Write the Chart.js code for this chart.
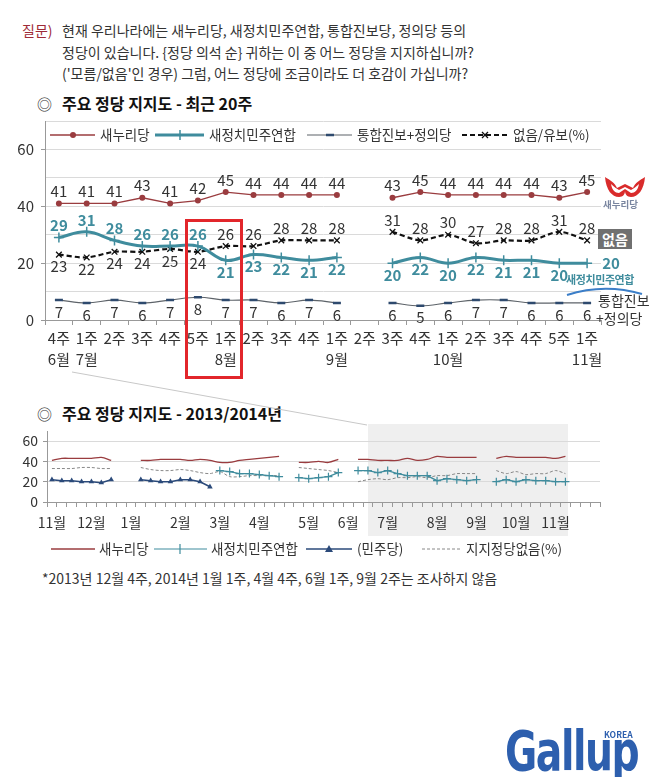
<!DOCTYPE html>
<html>
<head>
<meta charset="utf-8">
<script src="https://cdn.jsdelivr.net/npm/chart.js@4.4.1/dist/chart.umd.min.js"></script>
<style>
  body { margin: 0; background: #fff; font-family: "Noto Sans CJK KR", "Noto Sans", sans-serif; color: #333; }
  #page { position: relative; width: 659px; height: 777px; overflow: hidden; }
  .t { position: absolute; white-space: nowrap; line-height: 1; transform: translateY(-50%); }
  .box { position: absolute; }
  #shade { position: absolute; left: 368px; top: 424px; width: 200px; height: 112px; background: #efefef; z-index: 0; }
  #top-wrap { position: absolute; left: 0; top: 110px; z-index: 1; }
  #bottom-wrap { position: absolute; left: 0; top: 425px; z-index: 1; }
  #overlay { position: absolute; left: 0; top: 0; z-index: 2; }
  .q { font-size: 14px; color: #333; }
  .title { font-size: 16px; font-weight: bold; color: #111; }
  .leg { font-size: 13.5px; color: #333; z-index: 3; }
</style>
</head>
<body>
<div id="page">
  <div id="shade"></div>

  <div class="t q" style="left:22px;top:30px;color:#9e2a36;">질문)</div>
  <div class="t q" style="left:62px;top:30px;">현재 우리나라에는 새누리당, 새정치민주연합, 통합진보당, 정의당 등의</div>
  <div class="t q" style="left:62px;top:52px;">정당이 있습니다. {정당 의석 순} 귀하는 이 중 어느 정당을 지지하십니까?</div>
  <div class="t q" style="left:62px;top:73px;">('모름/없음'인 경우) 그럼, 어느 정당에 조금이라도 더 호감이 가십니까?</div>

  <div class="t" style="left:37px;top:103px;font-size:15px;">◎</div>
  <div class="t title" style="left:62px;top:103px;">주요 정당 지지도 - 최근 20주</div>

  <div id="top-wrap"><canvas id="top-chart" width="659" height="275"></canvas></div>

  <div class="t leg" style="left:100px;top:135px;">새누리당</div>
  <div class="t leg" style="left:209px;top:135px;">새정치민주연합</div>
  <div class="t leg" style="left:357px;top:135px;">통합진보+정의당</div>
  <div class="t leg" style="left:513px;top:135px;">없음/유보(%)</div>

  <div class="t" style="left:603px;top:205px;font-size:9.5px;font-weight:bold;color:#7a86a0;z-index:3;">새누리당</div>
  <div class="box" style="left:598px;top:229px;width:34px;height:20px;background:#707070;color:#fff;font-size:14px;font-weight:bold;line-height:20px;text-align:center;z-index:3;">없음</div>
  <div class="t" style="left:566px;top:279px;font-size:11px;font-weight:bold;color:#3f8c9d;letter-spacing:-0.4px;z-index:3;">새정치민주연합</div>
  <div class="t" style="left:598px;top:300px;font-size:14px;z-index:3;">통합진보</div>
  <div class="t" style="left:596px;top:318px;font-size:14px;z-index:3;">+정의당</div>

  <div class="box" style="left:185px;top:219px;width:58px;height:160px;border:3px solid #e2262b;box-sizing:border-box;z-index:3;"></div>

  <div class="t" style="left:37px;top:413px;font-size:15px;">◎</div>
  <div class="t title" style="left:62px;top:413px;">주요 정당 지지도 - 2013/2014년</div>

  <div id="bottom-wrap"><canvas id="bottom-chart" width="659" height="112"></canvas></div>

  <div class="t leg" style="left:99px;top:549px;">새누리당</div>
  <div class="t leg" style="left:211px;top:549px;">새정치민주연합</div>
  <div class="t leg" style="left:357px;top:549px;">(민주당)</div>
  <div class="t leg" style="left:466px;top:549px;">지지정당없음(%)</div>

  <div class="t" style="left:42px;top:578px;font-size:14px;">*2013년 12월 4주, 2014년 1월 1주, 4월 4주, 6월 1주, 9월 2주는 조사하지 않음</div>

  <div class="box" style="left:505px;top:723px;font-family:'DejaVu Sans Condensed','DejaVu Sans',sans-serif;font-weight:bold;font-size:46px;line-height:1;color:#2d5fae;letter-spacing:-1.5px;transform:scale(0.95,1.2);transform-origin:left top;z-index:3;">Gallup</div>
  <div class="t" style="left:603px;top:734px;font-size:8.5px;font-weight:bold;color:#2d5fae;z-index:3;background:#fff;padding:0 1px;">KOREA</div>

  <svg id="overlay" width="659" height="777">
    <line x1="72" y1="372" x2="367" y2="425" stroke="#c8c8c8" stroke-width="1"/>
    <!-- top legend swatches -->
    <line x1="50" y1="135" x2="95" y2="135" stroke="#9a3c3f" stroke-width="1.3"/>
    <circle cx="73" cy="135" r="3" fill="#9a3c3f"/>
    <line x1="155" y1="135" x2="204" y2="135" stroke="#3f8c9d" stroke-width="3"/>
    <line x1="180" y1="130" x2="180" y2="140" stroke="#3f8c9d" stroke-width="1.5"/>
    <line x1="307" y1="135" x2="352" y2="135" stroke="#5d6369" stroke-width="1.2"/>
    <line x1="326" y1="135" x2="334" y2="135" stroke="#2e4a6e" stroke-width="2.5"/>
    <line x1="462" y1="135" x2="508" y2="135" stroke="#111" stroke-width="2.2" stroke-dasharray="5,3"/>
    <path d="M482 132 L488 138 M488 132 L482 138" stroke="#111" stroke-width="1.3"/>
    <!-- bottom legend swatches -->
    <line x1="51" y1="549" x2="95" y2="549" stroke="#9a3c3f" stroke-width="1.3"/>
    <line x1="154" y1="549" x2="207" y2="549" stroke="#3f8c9d" stroke-width="1.2"/>
    <line x1="180" y1="544" x2="180" y2="554" stroke="#3f8c9d" stroke-width="1.2"/>
    <line x1="306" y1="549" x2="352" y2="549" stroke="#2b4a7a" stroke-width="1.5"/>
    <path d="M329 545 L333 552 L325 552 Z" fill="#2b4a7a"/>
    <line x1="422" y1="549" x2="460" y2="549" stroke="#888" stroke-width="1" stroke-dasharray="3,2"/>
    <!-- right side marks -->
    <path d="M567 295 Q604 283 642 294" stroke="#3b7ec8" stroke-width="2" fill="none"/>
    <path d="M605 177 C606 190 612 197 619 197 C623 197 625 194 625 191 C625 194 627 197 631 197 C638 197 644 190 645 177 C640 180 635 183 633 188 L625 184 L617 188 C615 183 610 180 605 177 Z" fill="#d92b2b"/>
    <path d="M611 184 C612 190 615 193 619 193 L625 189 L631 193 C635 193 638 190 639 184 C636 187 633 189 631 190 L625 187 L619 190 C617 189 614 187 611 184 Z" fill="#fff"/>
    <!-- globe in G -->
    <path d="M527 736 L527 764 M514 750 L540 750" stroke="#fff" stroke-width="1.2"/>
  </svg>
</div>

<script>
// ---- top chart data (최근 20주) ----
const weeks = ['4주', '1주', '2주', '3주', '4주', '5주', '1주', '2주', '3주', '4주', '1주', '2주', '3주', '4주', '1주', '2주', '3주', '4주', '5주', '1주'];
const weekMonths = ['6월', '7월', '', '', '', '', '8월', '', '', '', '9월', '', '', '', '10월', '', '', '', '', '11월'];
const saenuri = [41, 41, 41, 43, 41, 42, 45, 44, 44, 44, 44, null, 43, 45, 44, 44, 44, 44, 43, 45];
const npad = [29, 31, 28, 26, 26, 26, 21, 23, 22, 21, 22, null, 20, 22, 20, 22, 21, 21, 20, 20];
const unified = [7, 6, 7, 6, 7, 8, 7, 7, 6, 7, 6, null, 6, 5, 6, 7, 7, 6, 6, 6];
const noneTop = [23, 22, 24, 24, 25, 24, 26, 26, 28, 28, 28, null, 31, 28, 30, 27, 28, 28, 31, 28];

// ---- bottom chart data (2013/2014, weekly slots) ----
const monthNames = ['11월', '12월', '1월', '2월', '3월', '4월', '5월', '6월', '7월', '8월', '9월', '10월', '11월'];
const monthSlots = [0, 4, 8, 13, 17, 21, 26, 30, 34, 39, 43, 47, 51];
const slotCount = 56;
const saenuriLong = [41, 43, 43, 43, 43, 44, 41, null, null,
  41, 41, 42, 42, 42, 41, 42, 41, 39, 39, 41, 42, 43, 44, 45, null,
  39, 39, 40, 39, 42, null,
  42, 42, 41, 41, 41, 43, 41, 42, 45, 44, 44, 44, 44, null,
  43, 45, 44, 44, 44, 44, 43, 45, null, null, null];
const minjooLong = [22, 21, 21, 20, 20, 19, 22, null, null,
  22, 21, 20, 20, 22, 22, 20, 15, null, null, null, null, null, null, null, null,
  null, null, null, null, null, null,
  null, null, null, null, null, null, null, null, null, null, null, null, null, null,
  null, null, null, null, null, null, null, null, null, null, null];
const npadLong = [null, null, null, null, null, null, null, null, null,
  null, null, null, null, null, null, null, null, 31, 30, 28, 28, 27, 26, 25, null,
  24, 23, 24, 25, 29, null,
  31, 31, 29, 31, 28, 26, 26, 26, 21, 23, 22, 21, 22, null,
  20, 22, 20, 22, 21, 21, 20, 20, null, null, null];
const noneLong = [33, 33, 33, 34, 34, 33, 33, null, null,
  34, 32, 31, 31, 32, 31, 29, 28, 30, 25, 25, 26, 26, 26, 26, null,
  34, 33, 32, 31, 29, null,
  20, 22, 23, 22, 24, 24, 25, 24, 26, 26, 28, 28, 28, null,
  31, 28, 30, 27, 28, 28, 31, 28, null, null, null];

Chart.defaults.font.family = '"Noto Sans CJK KR", "Noto Sans", sans-serif';
Chart.defaults.color = '#333';

const pointLabels = {
  id: 'pointLabels',
  afterDatasetsDraw(chart) {
    const ctx = chart.ctx;
    chart.data.datasets.forEach((ds, di) => {
      if (!ds.labelPlace) return;
      const meta = chart.getDatasetMeta(di);
      meta.data.forEach((pt, i) => {
        const v = ds.data[i];
        if (v === null || v === undefined) return;
        const place = ds.labelPlace(i);
        let x = pt.x, y = pt.y;
        if (place === 'above') y -= 12;
        else if (place === 'below') y += 12;
        else if (place === 'right') x += 24;
        ctx.save();
        ctx.font = (ds.labelBold ? 'bold ' : '') + '15px "Noto Sans CJK KR", sans-serif';
        ctx.fillStyle = ds.labelColor;
        ctx.textAlign = 'center';
        ctx.textBaseline = 'middle';
        ctx.fillText(String(v), x, y);
        ctx.restore();
      });
    });
  }
};

const lastIdx = weeks.length - 1;

new Chart(document.getElementById('top-chart'), {
  type: 'line',
  data: {
    labels: weeks.map((w, i) => [w, weekMonths[i]]),
    datasets: [
      {
        label: '새누리당', data: saenuri,
        borderColor: '#9a3c3f', backgroundColor: '#9a3c3f', borderWidth: 1.3,
        pointStyle: 'circle', pointRadius: 3, pointBorderWidth: 0, tension: 0,
        labelColor: '#333', labelPlace: () => 'above'
      },
      {
        label: '새정치민주연합', data: npad,
        borderColor: '#3f8c9d', backgroundColor: '#3f8c9d', borderWidth: 3,
        pointStyle: 'cross', pointRadius: 5, pointBorderWidth: 1.5, tension: 0.4,
        labelColor: '#3f8c9d', labelBold: true,
        labelPlace: i => i === lastIdx ? 'right' : (i < 6 ? 'above' : 'below')
      },
      {
        label: '통합진보+정의당', data: unified,
        borderColor: '#5d6369', backgroundColor: '#2e4a6e', borderWidth: 1.2,
        pointStyle: 'line', pointRadius: 4, pointBorderWidth: 2.5, pointBorderColor: '#2e4a6e', tension: 0.4,
        labelColor: '#333', labelPlace: () => 'below'
      },
      {
        label: '없음/유보(%)', data: noneTop,
        borderColor: '#111', backgroundColor: '#111', borderWidth: 2.2, borderDash: [5, 3],
        pointStyle: 'crossRot', pointRadius: 4, pointBorderWidth: 1.3, tension: 0.3,
        labelColor: '#333', labelPlace: i => i < 6 ? 'below' : 'above'
      }
    ]
  },
  options: {
    responsive: false,
    animation: false,
    devicePixelRatio: 1,
    layout: { padding: { top: 11, right: 58, left: 0, bottom: 0 } },
    plugins: { legend: { display: false }, tooltip: { enabled: false } },
    scales: {
      x: {
        type: 'category', offset: true,
        grid: { offset: true, drawOnChartArea: false, drawTicks: true, tickLength: 5, color: '#999' },
        border: { color: '#999' },
        ticks: { autoSkip: false, maxRotation: 0, padding: 3, font: { size: 15, lineHeight: 1.4 }, color: '#333' },
        afterFit(scale) { scale.height = 65; scale.paddingLeft = 0; scale.paddingRight = 0; }
      },
      y: {
        min: 0, max: 70,
        grid: { color: '#dadada', tickLength: 4, tickColor: c => c.tick && c.tick.value % 20 === 0 ? '#999' : 'rgba(0,0,0,0)' },
        border: { color: '#999' },
        ticks: { stepSize: 10, padding: 7, font: { size: 15 }, color: '#333', callback: v => v % 20 === 0 && v <= 60 ? v : '' },
        afterFit(scale) { scale.width = 45; scale.paddingTop = 0; scale.paddingBottom = 0; }
      }
    }
  },
  plugins: [pointLabels]
});

const longLabels = [];
for (let i = 0; i < slotCount; i++) {
  const m = monthSlots.indexOf(i);
  longLabels.push(m >= 0 ? monthNames[m] : '');
}

new Chart(document.getElementById('bottom-chart'), {
  type: 'line',
  data: {
    labels: longLabels,
    datasets: [
      {
        label: '새누리당', data: saenuriLong,
        borderColor: '#9a3c3f', borderWidth: 1.3, pointRadius: 0, tension: 0.3
      },
      {
        label: '새정치민주연합', data: npadLong,
        borderColor: '#3f8c9d', backgroundColor: '#3f8c9d', borderWidth: 1.3,
        pointStyle: 'cross', pointRadius: 4, pointBorderWidth: 1.2, tension: 0
      },
      {
        label: '(민주당)', data: minjooLong,
        borderColor: '#2b4a7a', backgroundColor: '#2b4a7a', borderWidth: 1.5,
        pointStyle: 'triangle', pointRadius: 3.2, pointBorderWidth: 0, tension: 0
      },
      {
        label: '지지정당없음(%)', data: noneLong,
        borderColor: '#888', borderWidth: 1, borderDash: [3, 2], pointRadius: 0, tension: 0.3
      }
    ]
  },
  options: {
    responsive: false,
    animation: false,
    devicePixelRatio: 1,
    layout: { padding: { top: 6, right: 59, left: 0, bottom: 0 } },
    plugins: { legend: { display: false }, tooltip: { enabled: false } },
    scales: {
      x: {
        type: 'category', offset: true,
        grid: { offset: true, drawOnChartArea: false, drawTicks: true, tickLength: 5, color: '#999' },
        border: { color: '#999' },
        ticks: { autoSkip: false, maxRotation: 0, padding: 7, font: { size: 14 }, color: '#333' },
        afterFit(scale) { scale.height = 35; scale.paddingLeft = 0; scale.paddingRight = 0; }
      },
      y: {
        min: 0, max: 70,
        grid: { color: '#dadada', tickLength: 4, tickColor: c => c.tick && c.tick.value % 20 === 0 ? '#999' : 'rgba(0,0,0,0)' },
        border: { color: '#999' },
        ticks: { stepSize: 10, padding: 5, font: { size: 14 }, color: '#333', callback: v => v % 20 === 0 && v <= 60 ? v : '' },
        afterFit(scale) { scale.width = 47; scale.paddingTop = 0; scale.paddingBottom = 0; }
      }
    }
  }
});
</script>
</body>
</html>
